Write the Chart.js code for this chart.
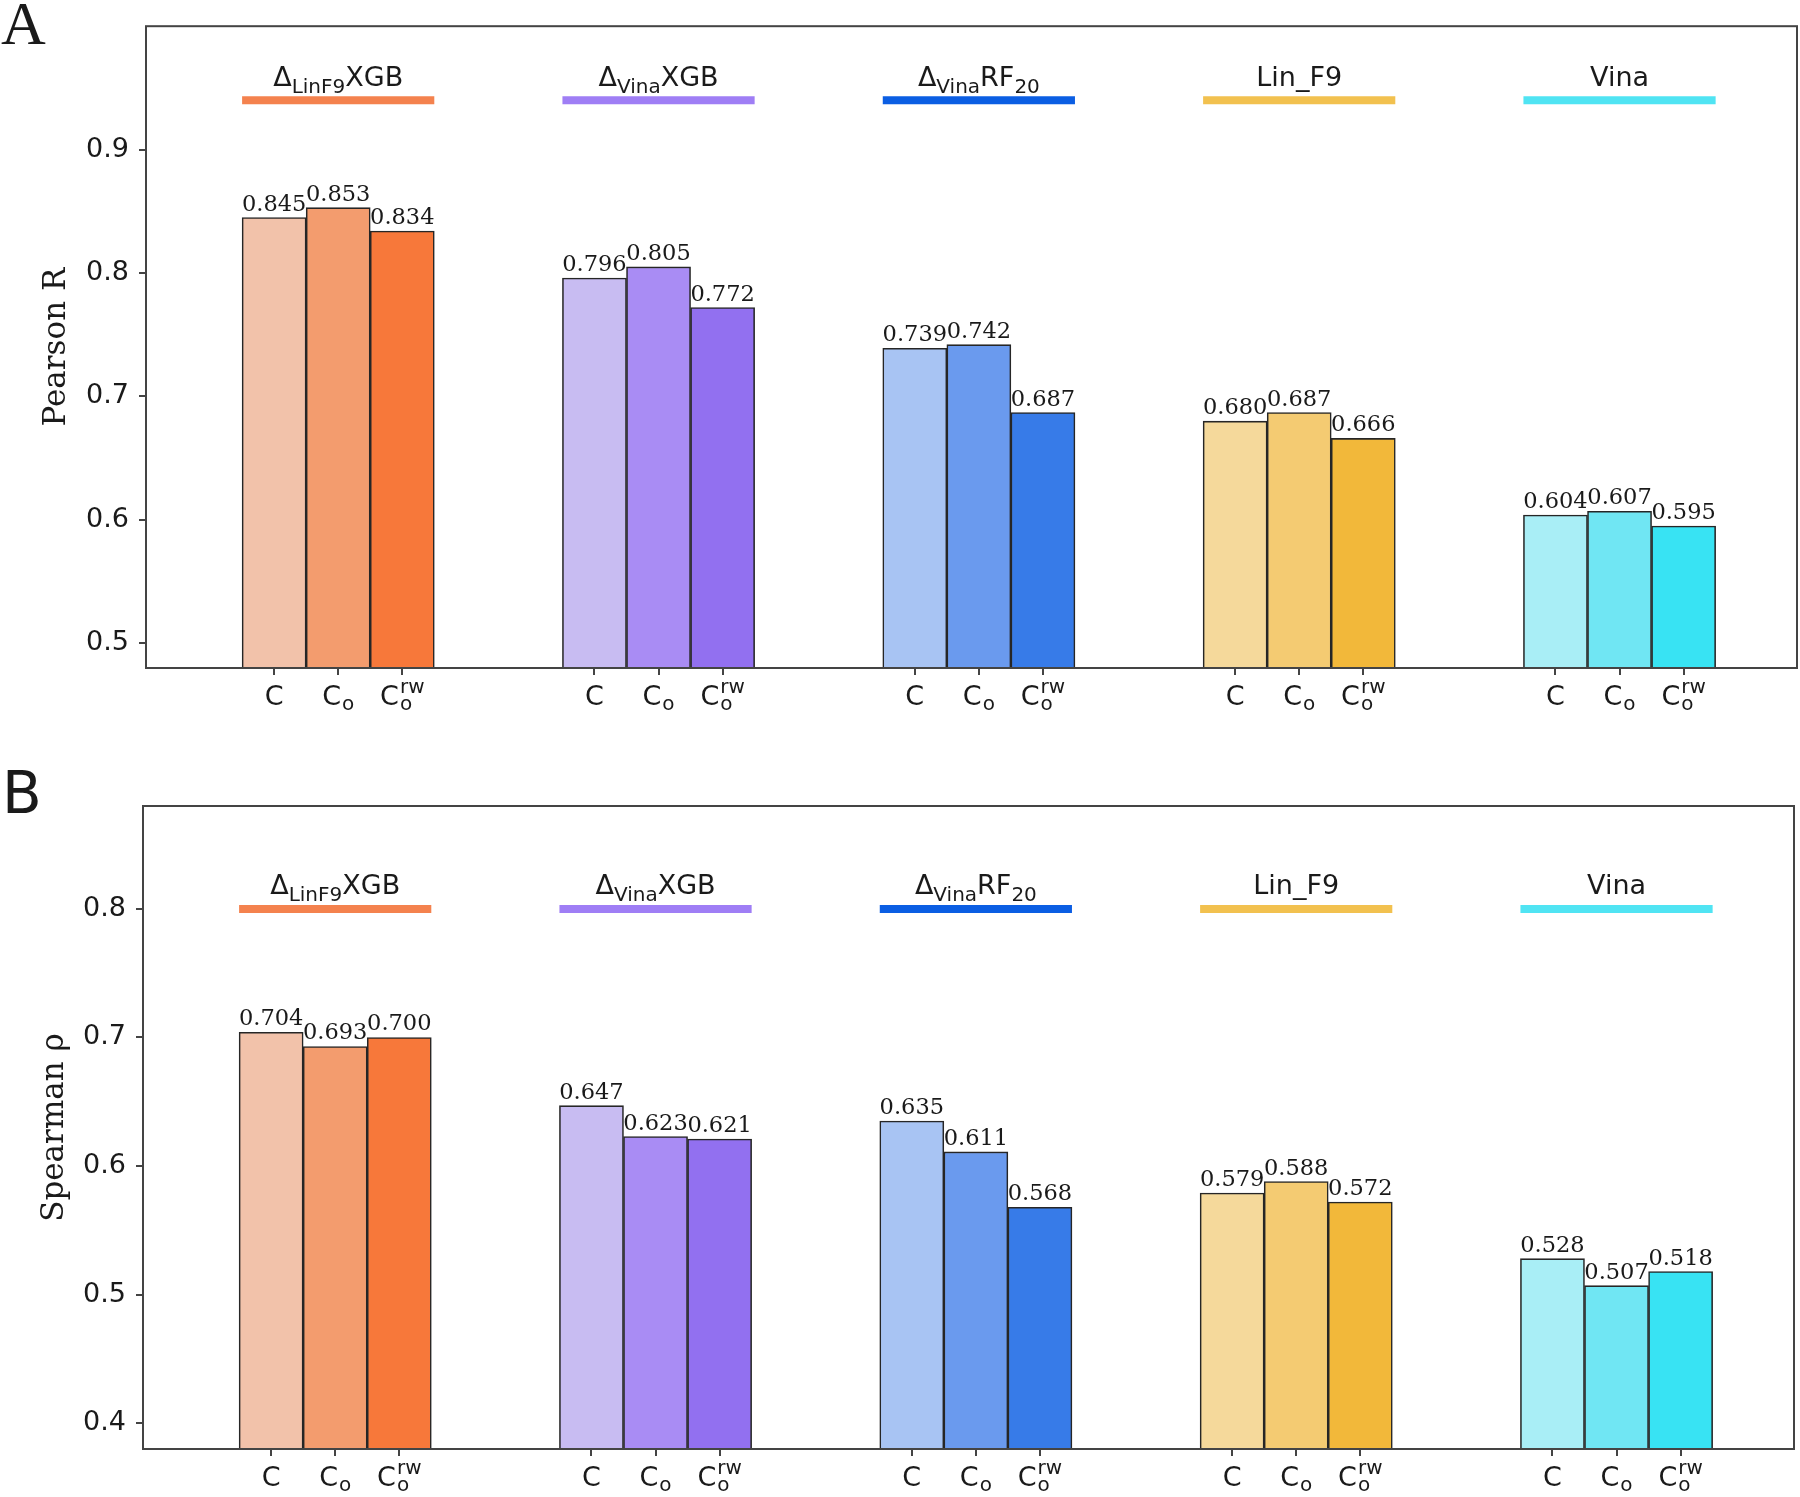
<!DOCTYPE html>
<html>
<head>
<meta charset="utf-8">
<script src="https://cdn.jsdelivr.net/npm/chart.js@4.4.1/dist/chart.umd.min.js"></script>
<style>
  html, body { margin: 0; padding: 0; background: #fff; }
  #wrap { position: relative; width: 1800px; height: 1497px; }
  .panel { position: absolute; left: 0; width: 1800px; }
</style>
</head>
<body>
<div id="wrap">
  <div class="panel" style="top:0;height:748px"><canvas id="chartA" width="1800" height="748"></canvas></div>
  <div class="panel" style="top:748px;height:749px"><canvas id="chartB" width="1800" height="749"></canvas></div>
</div>
<script>
// scoring functions (header text: base, subscript, tail, tail subscript)
var groupNames = ['Δ', 'Δ', 'Δ', 'Lin_F9', 'Vina'];
var groupSubs = ['LinF9', 'Vina', 'Vina', '', ''];
var groupTails = ['XGB', 'XGB', 'RF', '', ''];
var groupTailSubs = ['', '', '20', '', ''];

// test sets: C, C_o, C_o^rw
var variantBase = ['C', 'C', 'C'];
var variantSub = ['', 'o', 'o'];
var variantSup = ['', '', 'rw'];

// values, 3 per group in the order above
var pearsonR = [0.845, 0.853, 0.834, 0.796, 0.805, 0.772, 0.739, 0.742, 0.687, 0.680, 0.687, 0.666, 0.604, 0.607, 0.595];
var spearmanRho = [0.704, 0.693, 0.700, 0.647, 0.623, 0.621, 0.635, 0.611, 0.568, 0.579, 0.588, 0.572, 0.528, 0.507, 0.518];

var pearsonTicks = [0.5, 0.6, 0.7, 0.8, 0.9];
var spearmanTicks = [0.4, 0.5, 0.6, 0.7, 0.8];

// colours
var barPalette = [
  ['#F2C2AA', '#F39C6E', '#F7783A'],
  ['#C8BCF2', '#A98CF4', '#9270F0'],
  ['#A8C4F3', '#6A9AEE', '#377BE8'],
  ['#F5D99B', '#F4CB72', '#F2B83A'],
  ['#A9EEF6', '#70E6F3', '#38E3F3']
];
var linePalette = ['#F4824E', '#9F7EF5', '#0B5EE3', '#F2C14F', '#50E4F3'];

var SANS = '"DejaVu Sans"';
var SERIF = '"DejaVu Serif"';
var INK = '#1a1a1a';
var AXIS = '#444';

function buildPoints(values) {
  var pts = [];
  values.forEach(function (v, i) {
    var g = Math.floor(i / 3), k = i % 3;
    pts.push({ x: g * 5 + k, y: v });
  });
  return pts;
}

function drawRuns(ctx, runs, cx, base) {
  var total = 0;
  runs.forEach(function (r) { ctx.font = r.font; r.w = r.text ? ctx.measureText(r.text).width : 0; total += r.w; });
  var x = cx - total / 2;
  ctx.textAlign = 'left';
  runs.forEach(function (r) {
    if (!r.text) return;
    ctx.font = r.font;
    ctx.fillText(r.text, x, base + r.dy);
    x += r.w;
  });
}

function drawVariant(ctx, k, cx, base) {
  var mainF = '27px ' + SANS, smallF = '20px ' + SANS;
  ctx.font = mainF;
  var wC = ctx.measureText(variantBase[k]).width;
  ctx.font = smallF;
  var wSub = variantSub[k] ? ctx.measureText(variantSub[k]).width : 0;
  var wSup = variantSup[k] ? ctx.measureText(variantSup[k]).width : 0;
  var extra = Math.max(wSub, wSup);
  var gap = extra ? 1 : 0;
  var x0 = cx - (wC + gap + extra) / 2;
  ctx.textAlign = 'left';
  ctx.font = mainF;
  ctx.fillText(variantBase[k], x0, base);
  ctx.font = smallF;
  if (wSub) ctx.fillText(variantSub[k], x0 + wC + gap, base + 5);
  if (wSup) ctx.fillText(variantSup[k], x0 + wC + gap, base - 12);
}

var annotate = {
  id: 'annotate',
  afterDatasetsDraw: function (chart, args, opts) {
    var ctx = chart.ctx, xs = chart.scales.x, ys = chart.scales.y, area = chart.chartArea;
    var ds = chart.data.datasets[0];
    ctx.save();
    ctx.fillStyle = INK;
    ctx.textBaseline = 'alphabetic';

    // value labels
    ctx.font = '22.5px ' + SERIF;
    ctx.textAlign = 'center';
    chart.getDatasetMeta(0).data.forEach(function (bar, i) {
      ctx.fillText(ds.data[i].y.toFixed(3), bar.x, bar.y - 7);
    });

    // frame
    ctx.strokeStyle = AXIS;
    ctx.lineWidth = 2;
    ctx.strokeRect(area.left, area.top, area.right - area.left, area.bottom - area.top);

    // group headers
    var ly = ys.getPixelForValue(opts.headerY);
    for (var g = 0; g < groupNames.length; g++) {
      var x1 = xs.getPixelForValue(g * 5 - 0.5), x2 = xs.getPixelForValue(g * 5 + 2.5);
      ctx.strokeStyle = linePalette[g];
      ctx.lineWidth = 8;
      ctx.beginPath();
      ctx.moveTo(x1, ly);
      ctx.lineTo(x2, ly);
      ctx.stroke();
      ctx.fillStyle = INK;
      drawRuns(ctx, [
        { text: groupNames[g], font: '27px ' + SANS, dy: 0 },
        { text: groupSubs[g], font: '20px ' + SANS, dy: 7 },
        { text: groupTails[g], font: '27px ' + SANS, dy: 0 },
        { text: groupTailSubs[g], font: '20px ' + SANS, dy: 7 }
      ], (x1 + x2) / 2, ly - 14.5);
    }

    // x tick labels
    ds.data.forEach(function (p, i) {
      drawVariant(ctx, i % 3, xs.getPixelForValue(p.x), area.bottom + 37);
    });

    // panel letter
    ctx.font = opts.letterFont;
    ctx.textAlign = 'left';
    ctx.fillText(opts.letter, opts.letterX, opts.letterY);
    ctx.restore();
  }
};

function makePanel(id, values, ticks, yMin, yMax, title, titlePad, opts) {
  var colors = [];
  values.forEach(function (v, i) { colors.push(barPalette[Math.floor(i / 3)][i % 3]); });
  var pts = buildPoints(values);
  return new Chart(document.getElementById(id), {
    type: 'bar',
    data: {
      datasets: [{
        data: pts,
        backgroundColor: colors,
        borderColor: '#262626',
        borderWidth: 1.6,
        borderSkipped: false,
        categoryPercentage: 1,
        barPercentage: 1
      }]
    },
    options: {
      responsive: false,
      animation: false,
      layout: { padding: opts.padding },
      plugins: { legend: { display: false }, tooltip: { enabled: false }, annotate: opts },
      scales: {
        x: {
          type: 'linear',
          min: -2,
          max: 23.77,
          offset: false,
          border: { display: false },
          grid: { drawOnChartArea: false, offset: false, tickLength: 7, color: AXIS, lineWidth: 2 },
          ticks: { display: false },
          afterBuildTicks: function (s) { s.ticks = pts.map(function (p) { return { value: p.x }; }); },
          afterFit: function (s) { s.height = opts.xHeight; }
        },
        y: {
          min: yMin,
          max: yMax,
          border: { display: false },
          grid: { drawOnChartArea: false, tickLength: 7, color: AXIS, lineWidth: 2 },
          ticks: {
            padding: 10,
            color: INK,
            font: { family: 'DejaVu Sans', size: 27 },
            callback: function (v) { return v.toFixed(1); }
          },
          afterBuildTicks: function (s) { s.ticks = ticks.map(function (v) { return { value: v }; }); },
          afterFit: function (s) { s.width = opts.yWidth; },
          title: {
            display: true,
            text: title,
            color: INK,
            font: { family: 'DejaVu Serif', size: 31 },
            padding: { top: titlePad, bottom: 0 }
          }
        }
      }
    },
    plugins: [annotate]
  });
}

makePanel('chartA', pearsonR, pearsonTicks, 0.48, 1.0, 'Pearson R', 38, {
  padding: { top: 24, right: 3, left: 0, bottom: 0 },
  xHeight: 80, yWidth: 146, headerY: 0.94,
  letter: 'A', letterFont: '62px "Liberation Serif"', letterX: 1, letterY: 44
});

makePanel('chartB', spearmanRho, spearmanTicks, 0.38, 0.88, 'Spearman ρ', 36, {
  padding: { top: 58, right: 6, left: 0, bottom: 0 },
  xHeight: 48, yWidth: 143, headerY: 0.8,
  letter: 'B', letterFont: '58px "DejaVu Sans"', letterX: 2, letterY: 65
});
</script>
</body>
</html>
